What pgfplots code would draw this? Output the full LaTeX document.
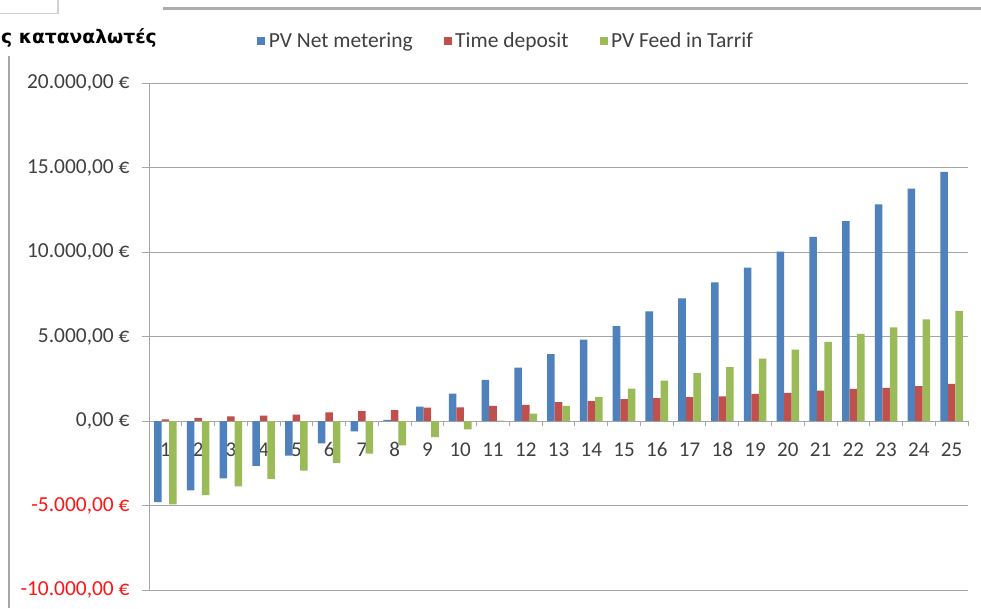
\documentclass[border=0pt]{standalone}
\usepackage{pgfplots}
\pgfplotsset{compat=1.18}
\usepackage{pgfplotstable}
\usepackage{fontspec}
\setmainfont{Carlito}
\newfontfamily\titlefont{DejaVu Sans}

\definecolor{netblue}{RGB}{79,129,189}
\definecolor{depred}{RGB}{192,80,77}
\definecolor{fitgreen}{RGB}{155,187,89}
\definecolor{gridgray}{RGB}{165,165,165}
\definecolor{labgray}{RGB}{64,64,64}
\definecolor{negred}{RGB}{255,20,20}

% cumulative result per year (euro)
\pgfplotstableread{
year net deposit fit
1 -4800 100 -4930
2 -4100 180 -4380
3 -3400 270 -3870
4 -2650 320 -3420
5 -2050 380 -2940
6 -1330 510 -2480
7 -620 590 -1930
8 60 650 -1440
9 850 790 -950
10 1620 810 -490
11 2430 890 20
12 3160 950 430
13 3960 1110 890
14 4810 1170 1410
15 5620 1300 1920
16 6490 1360 2390
17 7260 1420 2830
18 8210 1460 3190
19 9080 1610 3690
20 10020 1670 4230
21 10890 1800 4680
22 11820 1900 5150
23 12820 1960 5540
24 13750 2060 6010
25 14740 2200 6510
}\data

\begin{document}
\begin{tikzpicture}[x=1pt,y=1pt]
\useasboundingbox (0,0) rectangle (981,608);
\fill[white] (0,0) rectangle (981,608);
% bits of the surrounding page
\draw[black!18, line width=1.5pt] (0,594.7) -- (58,594.7) -- (58,608);
\draw[black!32, line width=3pt] (163,599) -- (981,599);
\draw[black!35, line width=2pt] (9.3,0) -- (9.3,552);
\node[anchor=base east, inner sep=0pt, font=\titlefont\bfseries\fontsize{18.7}{22}\selectfont]
  at (157,564.5) {ς καταναλωτές};

\begin{axis}[
  at={(149pt,18pt)}, anchor=south west,
  width=819pt, height=507pt, scale only axis,
  xmin=0.5, xmax=25.5, ymin=-10000, ymax=20000,
  axis x line*=middle, axis y line*=left,
  axis line style={gridgray, line width=0.9pt, -},
  ymajorgrids, major grid style={gridgray, line width=0.9pt},
  tick align=outside,
  xtick={1,...,25},
  minor xtick={0.5,1.5,...,25.5},
  major x tick style={draw=none},
  minor x tick style={gridgray, line width=0.9pt},
  minor tick length=5pt,
  major tick length=7pt,
  y tick style={gridgray, line width=0.9pt},
  scaled y ticks=false,
  ytick={-10000,-5000,0,5000,10000,15000,20000},
  yticklabels={{\textcolor{negred}{-10.000,00 €}},{\textcolor{negred}{-5.000,00 €}},{0,00 €},{5.000,00 €},{10.000,00 €},{15.000,00 €},{20.000,00 €}},
  /pgf/number format/assume math mode=true,
  yticklabel style={font=\fontsize{21.4}{24}\selectfont, text=labgray, xshift=-9pt},
  xticklabel style={font=\fontsize{21}{24}\selectfont, text=labgray, yshift=-11pt},
  ybar=0pt, bar width=0.23,
  legend image code/.code={\fill[#1] (0pt,-4pt) rectangle (8pt,4pt);},
  legend style={at={(0.436,1.083)}, anchor=center, draw=none, fill=none,
    legend columns=3, font=\fontsize{21.5}{24}\selectfont, text=labgray,
    /tikz/every odd column/.append style={column sep=1.5pt},
    /tikz/every even column/.append style={column sep=29pt}},
]
\addplot[fill=netblue, draw=none, bar shift=-0.23] table[x=year, y=net] {\data};
\addplot[fill=depred, draw=none, bar shift=0] table[x=year, y=deposit] {\data};
\addplot[fill=fitgreen, draw=none, bar shift=0.23] table[x=year, y=fit] {\data};
\legend{PV Net metering, Time deposit, PV Feed in Tarrif}
\end{axis}
\end{tikzpicture}
\end{document}
